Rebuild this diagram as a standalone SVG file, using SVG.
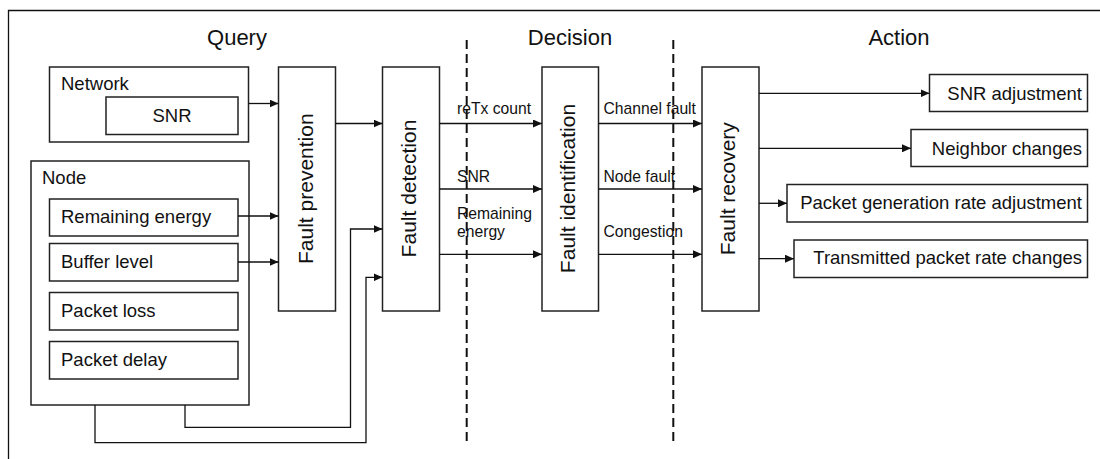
<svg xmlns="http://www.w3.org/2000/svg" width="1100" height="459" viewBox="0 0 1100 459">
  <style>
    .box { fill: #fff; stroke: #222; stroke-width: 1.5; }
    .t { font-family: "Liberation Sans", Arial, sans-serif; fill: #111; }
    .lbl { font-size: 18.5px; }
    .head { font-size: 22px; text-anchor: middle; }
    .stage { font-size: 21px; text-anchor: middle; }
    .edge { font-size: 15.7px; }
    .act { font-size: 18.5px; text-anchor: end; }
    .wire { fill: none; stroke: #111; stroke-width: 1.3; }
    .arrow { marker-end: url(#head); }
    .dash { fill: none; stroke: #111; stroke-width: 2; stroke-dasharray: 9 5; }
  </style>
  <defs>
    <marker id="head" markerUnits="userSpaceOnUse" markerWidth="9" markerHeight="8" refX="9" refY="4" orient="auto">
      <path d="M0,0 L9,4 L0,8 z" fill="#111"/>
    </marker>
  </defs>

  <rect width="1100" height="459" fill="#fff"/>

  <!-- outer frame (open at right and bottom) -->
  <path class="wire" d="M8.5,459 V10.5 H1100"/>

  <!-- phase headings -->
  <text class="t head" x="237" y="45">Query</text>
  <text class="t head" x="570" y="45">Decision</text>
  <text class="t head" x="899" y="45">Action</text>

  <!-- phase separators -->
  <g id="separators">
    <path class="dash" d="M466.7,40 V443.3"/>
    <path class="dash" d="M673.3,40 V443.3"/>
  </g>

  <!-- query sources -->
  <g id="network">
    <rect class="box" x="49.5" y="67" width="199" height="75"/>
    <text class="t lbl" x="61" y="89.5">Network</text>
  </g>
  <g id="network-snr">
    <rect class="box" x="106" y="97" width="132" height="37.5"/>
    <text class="t lbl" x="172" y="122" text-anchor="middle">SNR</text>
  </g>
  <g id="node">
    <rect class="box" x="31" y="161" width="218" height="244"/>
    <text class="t lbl" x="42" y="183.5">Node</text>
  </g>
  <g id="remaining-energy">
    <rect class="box" x="49.5" y="199" width="188.5" height="37"/>
    <text class="t lbl" x="61" y="223.3">Remaining energy</text>
  </g>
  <g id="buffer-level">
    <rect class="box" x="49.5" y="243.5" width="188.5" height="37.5"/>
    <text class="t lbl" x="61" y="268">Buffer level</text>
  </g>
  <g id="packet-loss">
    <rect class="box" x="49.5" y="292.5" width="188.5" height="37.5"/>
    <text class="t lbl" x="61" y="316.7">Packet loss</text>
  </g>
  <g id="packet-delay">
    <rect class="box" x="49.5" y="341.5" width="188.5" height="37.5"/>
    <text class="t lbl" x="61" y="365.7">Packet delay</text>
  </g>

  <!-- processing stages -->
  <g id="fault-prevention">
    <rect class="box" x="278.5" y="67" width="57" height="244"/>
    <text class="t stage" transform="translate(312.5,188.7) rotate(-90)">Fault prevention</text>
  </g>
  <g id="fault-detection">
    <rect class="box" x="382.5" y="67" width="57" height="244"/>
    <text class="t stage" transform="translate(415.5,188.5) rotate(-90)">Fault detection</text>
  </g>
  <g id="fault-identification">
    <rect class="box" x="542" y="67" width="56.5" height="244"/>
    <text class="t stage" transform="translate(575,188.5) rotate(-90)">Fault identification</text>
  </g>
  <g id="fault-recovery">
    <rect class="box" x="702" y="67" width="57" height="244"/>
    <text class="t stage" transform="translate(734.5,188.7) rotate(-90)">Fault recovery</text>
  </g>

  <!-- actions -->
  <g id="snr-adjustment">
    <rect class="box" x="929.5" y="74.5" width="158" height="37"/>
    <text class="t act" x="1082" y="100">SNR adjustment</text>
  </g>
  <g id="neighbor-changes">
    <rect class="box" x="911" y="129.5" width="176.5" height="37"/>
    <text class="t act" x="1082" y="155">Neighbor changes</text>
  </g>
  <g id="packet-generation">
    <rect class="box" x="787" y="184.5" width="300.5" height="37.5"/>
    <text class="t act" x="1082" y="209.3">Packet generation rate adjustment</text>
  </g>
  <g id="transmitted-rate">
    <rect class="box" x="794" y="240" width="293.5" height="37.5"/>
    <text class="t act" x="1082" y="264.3">Transmitted packet rate changes</text>
  </g>

  <!-- connectors -->
  <g id="connectors">
    <path class="wire arrow" d="M248.5,103.5 H278.5"/>
    <path class="wire arrow" d="M238,216 H278.5"/>
    <path class="wire arrow" d="M238,262 H278.5"/>
    <path class="wire arrow" d="M335.5,123.5 H382.5"/>
    <path class="wire arrow" d="M185,405 V427.3 H350.5 V229 H382.5"/>
    <path class="wire arrow" d="M95,405 V442.7 H366 V277.3 H382.5"/>

    <path class="wire arrow" d="M439.5,123.5 H542"/>
    <path class="wire arrow" d="M439.5,189 H542"/>
    <path class="wire arrow" d="M439.5,254.3 H542"/>

    <path class="wire arrow" d="M598.5,123.5 H702"/>
    <path class="wire arrow" d="M598.5,189 H702"/>
    <path class="wire arrow" d="M598.5,254.3 H702"/>

    <path class="wire arrow" d="M759,93.3 H929.5"/>
    <path class="wire arrow" d="M759,148.3 H911"/>
    <path class="wire arrow" d="M759,203.3 H787"/>
    <path class="wire arrow" d="M759,258.7 H794"/>
  </g>

  <!-- connector labels -->
  <g id="connector-labels">
    <text class="t edge" x="457" y="113.5">reTx count</text>
    <text class="t edge" x="457" y="182">SNR</text>
    <text class="t edge" x="457" y="219.3">Remaining</text>
    <text class="t edge" x="457" y="236.7">energy</text>
    <text class="t edge" x="603.5" y="113.5">Channel fault</text>
    <text class="t edge" x="603.5" y="182">Node fault</text>
    <text class="t edge" x="603.5" y="236.7">Congestion</text>
  </g>
</svg>
